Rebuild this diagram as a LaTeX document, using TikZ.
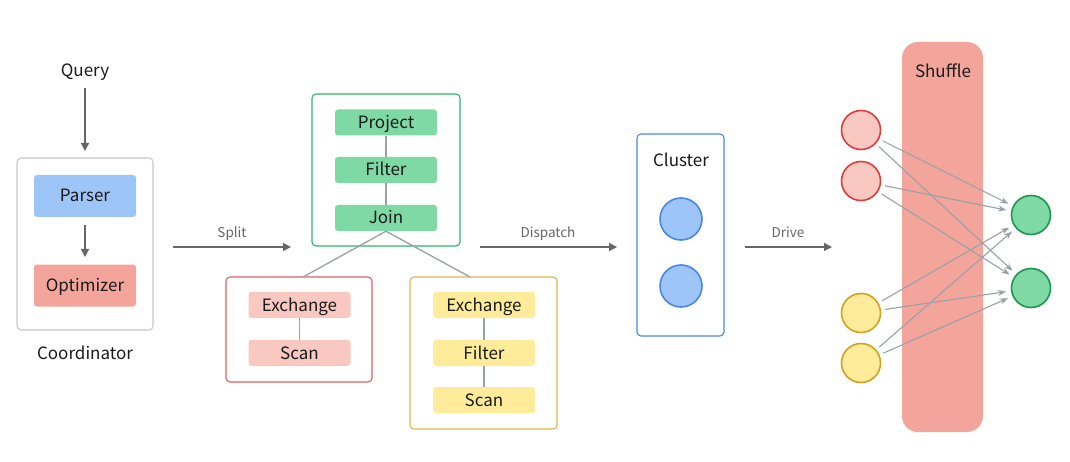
\documentclass[tikz,border=0pt]{standalone}
\usepackage{fontspec}
\setmainfont{Noto Sans CJK SC}
\usetikzlibrary{arrows.meta}
\definecolor{txt}{HTML}{1A1A1A}
\definecolor{arr}{HTML}{666666}
\definecolor{lbl}{HTML}{666666}
\definecolor{con}{HTML}{9AA0A6}
\definecolor{coordb}{HTML}{C8C8C8}
\definecolor{bluef}{HTML}{9EC5F8}
\definecolor{blueb}{HTML}{4A86E8}
\definecolor{salmon}{HTML}{F4A59B}
\definecolor{greenf}{HTML}{7ED9A4}
\definecolor{greenb}{HTML}{2EB36A}
\definecolor{greenc}{HTML}{1E9650}
\definecolor{redf}{HTML}{F8C8C1}
\definecolor{redb}{HTML}{E06060}
\definecolor{redc}{HTML}{E03C3C}
\definecolor{yelf}{HTML}{FEEC9B}
\definecolor{yelb}{HTML}{E0B450}
\definecolor{yelc}{HTML}{D4A020}
\tikzset{
  lab/.style={font=\fontsize{17}{19}\selectfont, text=txt, inner sep=0pt, text height=12pt, text depth=0pt},
  small/.style={font=\fontsize{13.5}{15}\selectfont, text=lbl, inner sep=0pt, text height=9.5pt, text depth=0pt},
  frame/.style={draw, line width=1.1pt, rounded corners=4pt, fill=white},
  op/.style={rectangle, rounded corners=3pt, minimum width=102pt, minimum height=26pt, inner sep=0pt, font=\fontsize{17}{19}\selectfont, text=txt, text height=12pt, text depth=0pt},
  bigop/.style={op, minimum height=42pt},
  mainarr/.style={draw=arr, line width=1.3pt, -{Triangle[length=8pt,width=8pt]}},
  conn/.style={draw=con, line width=1.3pt},
  sharr/.style={draw=con, line width=1.1pt, -{Stealth[length=8pt,width=6pt]}, shorten >=5pt, shorten <=4pt},
  dot/.style={circle, minimum size=39pt, inner sep=0pt, line width=1.6pt},
}
\begin{document}
\begin{tikzpicture}[x=1pt,y=-1pt]
\useasboundingbox (0,0) rectangle (1070,462);
% Coordinator
\node[lab] (query) at (85,71) {Query};
\node[frame, draw=coordb, minimum width=136pt, minimum height=172pt, inner sep=0pt] (coord) at (85,244) {};
\node[bigop, fill=bluef] (parser) at (85,196) {Parser};
\node[bigop, fill=salmon] (optim) at (85,285.5) {Optimizer};
\node[lab] (coordl) at (85,353) {Coordinator};
\coordinate (qa) at (85,88);
\coordinate (qb) at (85,151);
\draw[mainarr] (qa) -- (qb);
\coordinate (pa) at (85,225);
\coordinate (pb) at (85,257);
\draw[mainarr] (pa) -- (pb);
% Split
\coordinate (s1) at (173,247);
\coordinate (s2) at (291,247);
\draw[mainarr] (s1) -- (s2);
\node[small] (splitl) at (232,233) {Split};
% Green fragment
\node[frame, draw=greenb, minimum width=148pt, minimum height=152pt, inner sep=0pt] (gbox) at (386,170) {};
\node[op, fill=greenf] (proj) at (386,122.5) {Project};
\node[op, fill=greenf] (gfilt) at (386,170) {Filter};
\node[op, fill=greenf] (join) at (386,218) {Join};
\draw[conn] (proj) -- (gfilt);
\draw[conn] (gfilt) -- (join);
% Red fragment
\node[frame, draw=redb, minimum width=146pt, minimum height=105pt, inner sep=0pt] (rbox) at (299,329.5) {};
\node[op, fill=redf] (rex) at (299.5,305) {Exchange};
\node[op, fill=redf] (rscan) at (299.5,353) {Scan};
\draw[conn] (rex) -- (rscan);
% Yellow fragment
\node[frame, draw=yelb, minimum width=147pt, minimum height=152pt, inner sep=0pt] (ybox) at (483.5,353) {};
\node[op, fill=yelf] (yex) at (484,305) {Exchange};
\node[op, fill=yelf] (yfilt) at (484,353) {Filter};
\node[op, fill=yelf] (yscan) at (484,400) {Scan};
\draw[conn] (yex) -- (yfilt);
\draw[conn] (yfilt) -- (yscan);
% Join links
\coordinate (rt) at (303,277);
\coordinate (yt) at (470,277);
\draw[conn] (join.south) -- (rt);
\draw[conn] (join.south) -- (yt);
% Dispatch
\coordinate (d1) at (480,247);
\coordinate (d2) at (617,247);
\draw[mainarr] (d1) -- (d2);
\node[small] (displ) at (548,233) {Dispatch};
% Cluster
\node[frame, draw=blueb, minimum width=87pt, minimum height=202pt, inner sep=0pt] (cbox) at (680.5,235) {};
\node[lab] (clusl) at (681,161) {Cluster};
\node[dot, draw=blueb, fill=bluef, minimum size=42pt] (c1) at (681,219) {};
\node[dot, draw=blueb, fill=bluef, minimum size=42pt] (c2) at (681,286) {};
% Drive
\coordinate (v1) at (745,247);
\coordinate (v2) at (832,247);
\draw[mainarr] (v1) -- (v2);
\node[small] (drivel) at (788,233) {Drive};
% Shuffle
\node[rectangle, rounded corners=16pt, fill=salmon, minimum width=81pt, minimum height=390pt, inner sep=0pt] (shuf) at (942.5,237) {};
\node[lab] (shufl) at (943,72) {Shuffle};
\node[dot, draw=redc, fill=redf] (r1) at (861,130) {};
\node[dot, draw=redc, fill=redf] (r2) at (861,181) {};
\node[dot, draw=yelc, fill=yelf] (y1) at (861,313) {};
\node[dot, draw=yelc, fill=yelf] (y2) at (861,363) {};
\node[dot, draw=greenc, fill=greenf] (g1) at (1031,215) {};
\node[dot, draw=greenc, fill=greenf] (g2) at (1031,288) {};
\foreach \s in {r1,r2,y1,y2}{
  \draw[sharr] (\s) -- (g1);
  \draw[sharr] (\s) -- (g2);
}
\end{tikzpicture}
\end{document}
